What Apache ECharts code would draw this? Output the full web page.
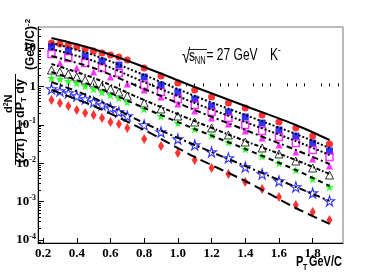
<!DOCTYPE html>
<html><head><meta charset="utf-8">
<script src="https://cdn.jsdelivr.net/npm/echarts@6/dist/echarts.min.js"></script>
<style>html,body{margin:0;padding:0;background:#fff}#c{width:382px;height:273px}</style>
</head><body><div id="c"></div>
<script>
// ---- data ----
const xTicks = [0.2,0.4,0.6,0.8,1.0,1.2,1.4,1.6,1.8];
const yTickExps = [-4,-3,-2,-1,0,1];

const ptFine = [0.25,0.3,0.35,0.4,0.45,0.5,0.55,0.6,0.65,0.7,0.8,0.9,1.0,1.1,1.2,1.3,1.4,1.5,1.6,1.7,1.8,1.9];
const ptSq   = [0.25,0.35,0.45,0.55,0.65,0.8,0.9,1.0,1.1,1.2,1.3,1.4,1.5,1.6,1.7,1.8,1.9];
const ptTri  = [0.3,0.4,0.5,0.6,0.7,0.8,0.9,1.0,1.1,1.2,1.3,1.4,1.5,1.6,1.7,1.8,1.9];
const ptFit  = [0.25,0.5,0.8,1.1,1.4,1.7,1.9];

const redCircle      = [13.5,12.7,12.0,10.6,9.4,8.35,7.41,6.57,5.83,4.87,3.01,1.87,1.23,0.805,0.53,0.37,0.274,0.18,0.118,0.0826,0.0511,0.0316];
const blueSquare     = [10.6,8.35,6.19,4.59,3.6,1.76,1.09,0.714,0.47,0.309,0.215,0.16,0.111,0.0733,0.0511,0.0336,0.0209];
const magentaSquare  = [6.98,5.49,4.07,3.01,2.23,1.09,0.714,0.47,0.328,0.215,0.15,0.099,0.069,0.0481,0.0336,0.0221,0.0145];
const magentaTri     = [4.07,3.01,2.37,1.76,1.155,0.805,0.53,0.348,0.228,0.15,0.105,0.069,0.0453,0.0298,0.0196,0.0129,0.00845];
const blackTri       = [2.67,2.37,2.10,1.76,1.47,1.23,1.024,0.857,0.714,0.562,0.37,0.258,0.169,0.118,0.0826,0.0543,0.0356,0.0249,0.0174,0.0114,0.0075,0.00492];
const greenStar      = [1.66,1.56,1.38,1.23,1.024,0.857,0.714,0.596,0.499,0.393,0.258,0.169,0.111,0.0779,0.0543,0.0356,0.0235,0.0154,0.0101,0.00665,0.00387,0.00241];
const blueStar       = [0.857,0.76,0.674,0.562,0.47,0.393,0.328,0.274,0.215,0.169,0.099,0.0649,0.0427,0.0298,0.0196,0.0137,0.00797,0.00524,0.00344,0.00241,0.00167,0.00104];
const redDiamond     = [0.442,0.37,0.309,0.243,0.204,0.18,0.15,0.118,0.105,0.0826,0.0427,0.0281,0.0185,0.0121,0.0075,0.00524,0.00324,0.00213,0.00132,0.00082,0.000536,0.000332];

const fit1 = [18.2,9.4,3.2,0.965,0.309,0.099,0.0402];
const fit2 = [13.5,6.57,1.98,0.562,0.18,0.0576,0.0249];
const fit3 = [9.4,4.59,1.30,0.37,0.118,0.0378,0.0164];
const fit4 = [6.19,3.01,0.857,0.243,0.0733,0.0221,0.00953];
const fit5 = [3.83,1.66,0.442,0.125,0.0378,0.0121,0.00524];
const fit6 = [2.37,1.024,0.274,0.0779,0.0235,0.00665,0.00255];
const fit7 = [1.30,0.499,0.111,0.0298,0.00845,0.00241,0.00104];
const fit8 = [0.805,0.309,0.0733,0.0145,0.00344,0.000681,0.000263];

// ---- axis ranges ----
const LMIN = -4.078, LMAX = 1.547;
const X_MIN = 0.17, X_MAX = 1.98;

const yMinor = [];
for (let n = -5; n <= 1; n++) for (let k = 2; k <= 9; k++) {
  const v = n + Math.log10(k);
  if (v > LMIN && v < LMAX) yMinor.push(v);
}
const xMinor = [];
for (let k = 4; k <= 39; k++) if (k % 4 !== 0) xMinor.push(+(k * 0.05).toFixed(2));

const STAR = 'path://M50,0 L61,35 L98,35 L68,57 L79,91 L50,70 L21,91 L32,57 L2,35 L39,35 Z';

function pts(xs, ys) { return xs.map((x, i) => [x, ys[i]]); }
function scatter(name, xs, ys, symbol, size, itemStyle) {
  return { name, type: 'scatter', xAxisIndex: 0, yAxisIndex: 0, data: pts(xs, ys),
           symbol, symbolSize: size, itemStyle, z: 3, silent: true };
}
function fit(name, ys, dash) {
  return { name, type: 'line', xAxisIndex: 0, yAxisIndex: 0, data: pts(ptFit, ys), smooth: 0.3,
           showSymbol: false, symbol: 'none', lineStyle: { color: '#000', width: 2, type: dash }, z: 4, silent: true };
}

const serifB = { fontFamily: 'Liberation Serif', fontWeight: 'bold', color: '#000' };
const sansB = '"Liberation Sans", Arial, sans-serif';

const chart = echarts.init(document.getElementById('c'), null, { renderer: 'canvas', width: 382, height: 273 });
chart.setOption({
  animation: false,
  backgroundColor: '#fff',
  grid: { left: 38, top: 27, width: 305, height: 216, show: true, borderColor: '#777', borderWidth: 1, backgroundColor: 'transparent' },
  xAxis: [
    { type: 'value', min: X_MIN, max: X_MAX, position: 'bottom',
      axisLine: { show: true, onZero: false, lineStyle: { color: '#000', width: 1 } },
      axisTick: { show: true, inside: true, length: 5, customValues: xTicks, lineStyle: { color: '#000' } },
      axisLabel: Object.assign({ show: true, customValues: xTicks, margin: 4, fontSize: 13, formatter: v => v.toFixed(1) }, serifB),
      splitLine: { show: false } },
    { type: 'value', min: X_MIN, max: X_MAX, position: 'bottom',
      axisLine: { show: false },
      axisTick: { show: true, inside: true, length: 3, customValues: xMinor, lineStyle: { color: '#000' } },
      axisLabel: { show: false }, splitLine: { show: false } }
  ],
  yAxis: [
    { type: 'log', logBase: 10, min: Math.pow(10, LMIN), max: Math.pow(10, LMAX), position: 'left',
      axisLine: { show: true, onZero: false, lineStyle: { color: '#000', width: 1 } },
      axisTick: { show: false }, axisLabel: { show: false }, splitLine: { show: false }, minorTick: { show: false } },
    { type: 'value', min: LMIN, max: LMAX, position: 'left',
      axisLine: { show: false },
      axisTick: { show: true, inside: true, length: 6, customValues: yTickExps, lineStyle: { color: '#000' } },
      axisLabel: { show: true, customValues: yTickExps, margin: 2,
        formatter: v => v === 0 ? '{b|1}' : v === 1 ? '{b|10}' : '{b|10}{s|' + v + '}',
        rich: {
          b: Object.assign({ fontSize: 13, lineHeight: 13 }, serifB),
          s: Object.assign({ fontSize: 8, lineHeight: 8, padding: [0, 0, 7, 0] }, serifB)
        } },
      splitLine: { show: false } },
    { type: 'value', min: LMIN, max: LMAX, position: 'left',
      axisLine: { show: false },
      axisTick: { show: true, inside: true, length: 3, customValues: yMinor, lineStyle: { color: '#000' } },
      axisLabel: { show: false }, splitLine: { show: false } }
  ],
  series: [
    scatter('0-5%', ptFine, redCircle, 'circle', 7, { color: '#ff0000' }),
    scatter('5-10%', ptSq, blueSquare, 'rect', 7, { color: '#0000ff' }),
    scatter('10-20%', ptSq, magentaSquare, 'rect', 7, { color: 'rgba(255,255,255,0)', borderColor: '#ff00ff', borderWidth: 1.5 }),
    scatter('20-30%', ptTri, magentaTri, 'triangle', 7, { color: '#ff00ff' }),
    scatter('30-40%', ptFine, blackTri, 'triangle', 8, { color: 'rgba(255,255,255,0)', borderColor: '#000', borderWidth: 1 }),
    scatter('40-50%', ptFine, greenStar, STAR, 9, { color: '#00ff00' }),
    scatter('50-60%', ptFine, blueStar, STAR, 10, { color: 'rgba(255,255,255,0)', borderColor: '#0000ff', borderWidth: 1.1 }),
    scatter('60-80%', ptFine, redDiamond, 'diamond', [6, 10], { color: '#ff0000' }),
    fit('fit1', fit1, 'solid'),
    fit('fit2', fit2, [2, 2]),
    fit('fit3', fit3, [2, 2]),
    fit('fit4', fit4, [6, 3, 2, 3]),
    fit('fit5', fit5, [4, 2, 1.5, 2]),
    fit('fit6', fit6, [5, 4]),
    fit('fit7', fit7, [7, 3, 2, 3]),
    fit('fit8', fit8, [10, 5])
  ],
  graphic: { elements: [
    // energy / particle label
    { type: 'group', x: 182, y: 0, scaleX: 0.75, silent: true, children: [
      { type: 'text', x: 0, y: 57, style: { text: '√', font: '20px ' + sansB, fill: '#000', verticalAlign: 'middle' } },
      { type: 'line', shape: { x1: 8.5, y1: 49.5, x2: 33.3, y2: 49.5 }, style: { stroke: '#000', lineWidth: 1 } },
      { type: 'text', x: 9.3, y: 57, style: { text: 's', font: '16px ' + sansB, fill: '#000', verticalAlign: 'middle' } },
      { type: 'text', x: 17, y: 61, style: { text: 'NN', font: '10px ' + sansB, fill: '#000', verticalAlign: 'middle' } },
      { type: 'text', x: 32.7, y: 56, style: { text: '= 27 GeV', font: '16px ' + sansB, fill: '#000', verticalAlign: 'middle' } },
      { type: 'text', x: 117.3, y: 56, style: { text: 'K', font: '16px ' + sansB, fill: '#000', verticalAlign: 'middle' } },
      { type: 'text', x: 128, y: 50, style: { text: '-', font: '11px ' + sansB, fill: '#000', verticalAlign: 'middle' } }
    ]},
    // x axis title
    { type: 'group', x: 296, y: 0, scaleX: 0.78, silent: true, children: [
      { type: 'text', x: 0, y: 262, style: { text: 'P', font: 'bold 14px ' + sansB, fill: '#000', verticalAlign: 'middle' } },
      { type: 'text', x: 9, y: 268, style: { text: 'T', font: 'bold 9px ' + sansB, fill: '#000', verticalAlign: 'middle' } },
      { type: 'text', x: 16.7, y: 262, style: { text: 'GeV/C', font: 'bold 14px ' + sansB, fill: '#000', verticalAlign: 'middle' } }
    ]},
    // y axis title: a group rotated 90deg CCW; local u runs up the screen, v runs right
    { type: 'group', x: 0, y: 170, rotation: Math.PI / 2, silent: true, children: [
      { type: 'text', x: 57, y: 9,
        style: { text: 'd{p|2}N', fill: '#000', align: 'left', verticalAlign: 'middle', font: 'bold 11px ' + sansB,
          rich: { p: { fontSize: 7, fontWeight: 'bold', fontFamily: 'Liberation Sans', fill: '#000', lineHeight: 7, padding: [0, 0, 6, 0] } } } },
      { type: 'line', shape: { x1: 5, y1: 15.5, x2: 96, y2: 15.5 }, style: { stroke: '#000', lineWidth: 1 } },
      { type: 'text', x: 7, y: 21,
        style: { text: '(2π) P{t|T} dP{t|T} dy', fill: '#000', align: 'left', verticalAlign: 'middle', font: 'bold 12.5px ' + sansB,
          rich: { t: { fontSize: 8, fontWeight: 'bold', fontFamily: 'Liberation Sans', fill: '#000', lineHeight: 8, padding: [6, 0, 0, 0] } } } },
      { type: 'text', x: 100, y: 31,
        style: { text: '(GeV/C){p|-2}', fill: '#000', align: 'left', verticalAlign: 'middle', font: 'bold 12px ' + sansB,
          rich: { p: { fontSize: 8, fontWeight: 'bold', fontFamily: 'Liberation Sans', fill: '#000', lineHeight: 8, padding: [0, 0, 7, 0] } } } }
    ]}
  ]}
});
</script>
</body></html>
